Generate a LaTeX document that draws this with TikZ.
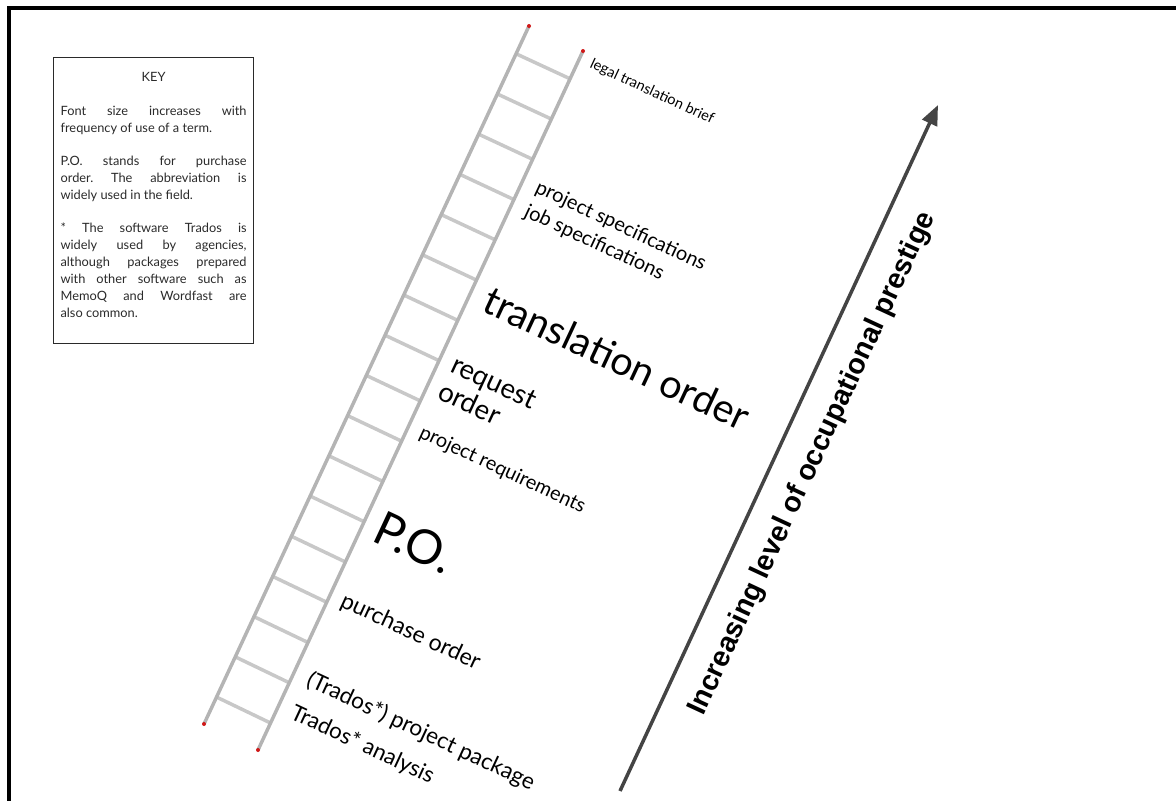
\documentclass[tikz,border=0pt]{standalone}
\usepackage{fontspec}
\setmainfont{Lato}
\newfontfamily\headfont{Liberation Sans}
\usetikzlibrary{arrows.meta,calc}
\setlength{\parindent}{0pt}
\frenchspacing
\definecolor{LadderRail}{HTML}{B4B4B4}
\definecolor{LadderRung}{HTML}{C8C8C8}
\definecolor{LadderEnd}{HTML}{D01818}
\definecolor{PrestigeArrow}{HTML}{444444}
\definecolor{KeyInk}{HTML}{2A2A2A}

\begin{document}
\begin{tikzpicture}[x=1pt,y=-1pt,
    rail/.style={draw=LadderRail,line width=3.5pt},
    rung/.style={draw=LadderRung,line width=3.5pt},
    railend/.style={fill=LadderEnd},
    term/.style={anchor=base west,rotate=-25,inner sep=0pt,text=black},
    keybox/.style={draw=KeyInk,line width=1.2pt,anchor=north west,text width=186pt,
      align=justify,inner xsep=7pt,inner ysep=14.5pt,text=KeyInk,
      font=\fontsize{12.8}{17}\selectfont},
    arrow/.style={-{Triangle[length=20pt,width=16pt]},line width=3.5pt,draw=PrestigeArrow}
  ]
  \useasboundingbox (0,0) rectangle (1176,801);
  \draw[line width=3.5pt] (1176,8) -- (9,8) -- (9,801);

  % key
  \node[keybox] (key) at (53,57) {%
    \makebox[\linewidth]{KEY}\par\vspace{17pt}
    Font size increases with\linebreak frequency of use of a term.\par\vspace{16pt}
    P.O. stands for purchase\linebreak order. The abbreviation is\linebreak
    widely used in the field.\par\vspace{16pt}
    * The software Trados is\linebreak widely used by agencies,\linebreak
    although packages prepared\linebreak with other software such as\linebreak
    MemoQ and Wordfast are\linebreak also common.\par\vspace*{12pt}};

  % ladder
  \coordinate (L0) at (204,724);
  \coordinate (L1) at (529,26);
  \coordinate (R0) at (258,750);
  \coordinate (R1) at (583,51);
  \foreach \k [evaluate=\k as \t using 0.0386+0.0576*\k] in {0,...,16}
    \draw[rung] ($(L0)!\t!(L1)$) -- ($(R0)!\t!(R1)$);
  \draw[rail] (L0) -- (L1);
  \draw[rail] (R0) -- (R1);
  \foreach \p in {L0,L1,R0,R1}
    \fill[railend] (\p) circle (2pt);

  % terms
  \node[term,font=\fontsize{14.6}{16}\selectfont] (brief) at (589,67) {legal translation brief};
  \node[term,font=\fontsize{20}{24}\selectfont] (projspec) at (534,192) {project specifications};
  \node[term,font=\fontsize{20}{24}\selectfont] (jobspec) at (523,216) {job specifications};
  \node[term,font=\fontsize{39.5}{44}\selectfont] (transorder) at (480,310) {translation order};
  \node[term,font=\fontsize{27.5}{30}\selectfont] (request) at (449,371) {request};
  \node[term,font=\fontsize{27.5}{30}\selectfont] (order) at (436,398) {order};
  \node[term,font=\fontsize{19.8}{22}\selectfont] (projreq) at (418,437) {project requirements};
  \node[term,font=\fontsize{47.5}{50}\selectfont] (po) at (370,540) {P.O.};
  \node[term,font=\fontsize{23}{26}\selectfont] (purchase) at (339,606) {purchase order};
  \node[term,font=\fontsize{22.6}{26}\selectfont] (package) at (305,685) {(Trados*) project package};
  \node[term,font=\fontsize{22.3}{26}\selectfont] (analysis) at (289,718) {Trados* analysis};

  % prestige arrow
  \coordinate (tail) at (620,791);
  \coordinate (tip) at (938,105);
  \draw[arrow] (tail) -- (tip)
    node[midway,sloped,below=22pt,inner sep=0pt,
      font=\headfont\bfseries\fontsize{28.5}{32}\selectfont] (prestige)
    {Increasing level of occupational prestige};
\end{tikzpicture}
\end{document}
